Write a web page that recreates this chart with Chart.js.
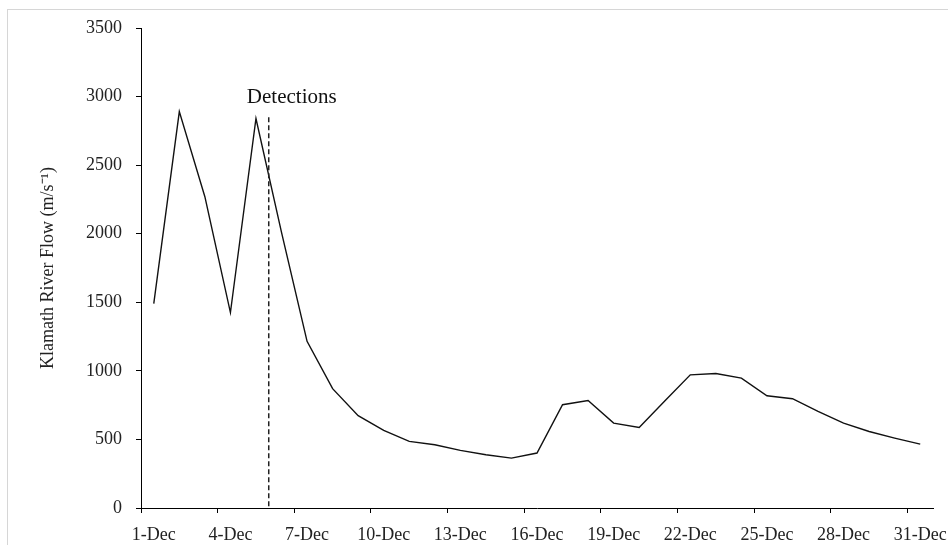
<!DOCTYPE html>
<html>
<head>
<meta charset="utf-8">
<script src="https://cdn.jsdelivr.net/npm/chart.js@4.4.1/dist/chart.umd.min.js"></script>
<style>
  html, body { margin: 0; padding: 0; background: #fff; overflow: hidden; }
  #frame { position: absolute; left: 7px; top: 9px; width: 970px; height: 570px; border: 1px solid #d6d6d6; }
  #wrap { position: absolute; left: 0; top: 0; width: 948px; height: 545px; }
</style>
</head>
<body>
<div id="frame"></div>
<div id="wrap"><canvas id="c"></canvas></div>
<script>
const dayLabels = ['1-Dec','2-Dec','3-Dec','4-Dec','5-Dec','6-Dec','7-Dec','8-Dec','9-Dec','10-Dec',
  '11-Dec','12-Dec','13-Dec','14-Dec','15-Dec','16-Dec','17-Dec','18-Dec','19-Dec','20-Dec',
  '21-Dec','22-Dec','23-Dec','24-Dec','25-Dec','26-Dec','27-Dec','28-Dec','29-Dec','30-Dec','31-Dec'];
const riverFlow = [1490, 2890, 2270, 1425, 2840, 2010, 1215, 870, 673, 566,
  486, 461, 420, 388, 364, 401, 753, 784, 619, 587,
  780, 971, 981, 947, 818, 797, 704, 619, 558, 510, 466];
const yTicks = [0, 500, 1000, 1500, 2000, 2500, 3000, 3500];
const labelEvery = 3;
const detectionText = 'Detections';
const detectionIndex = 4.5;   // between 5-Dec and 6-Dec
const detectionTop = 2850;
const yTitle = 'Klamath River Flow (m/s\u207B\u00B9)';

Chart.defaults.font.family = "'Liberation Serif', 'Times New Roman', serif";
Chart.defaults.color = '#222';

const detectionPlugin = {
  id: 'detection',
  afterDatasetsDraw(chart) {
    const {ctx, scales: {x, y}} = chart;
    const px = x.getPixelForValue(detectionIndex);
    const top = y.getPixelForValue(detectionTop);
    const bottom = y.getPixelForValue(0);
    ctx.save();
    ctx.strokeStyle = '#222';
    ctx.lineWidth = 1.5;
    ctx.setLineDash([5, 3]);
    ctx.beginPath();
    ctx.moveTo(px, top);
    ctx.lineTo(px, bottom);
    ctx.stroke();
    ctx.setLineDash([]);
    ctx.fillStyle = '#111';
    ctx.font = "21px 'Liberation Serif', 'Times New Roman', serif";
    ctx.textAlign = 'center';
    ctx.textBaseline = 'alphabetic';
    ctx.fillText(detectionText, px + 23, top - 14);
    ctx.restore();
  }
};

new Chart(document.getElementById('c'), {
  type: 'line',
  data: {
    labels: dayLabels,
    datasets: [{
      data: riverFlow,
      borderColor: '#111',
      borderWidth: 1.4,
      pointRadius: 0,
      tension: 0,
      fill: false
    }]
  },
  options: {
    responsive: true,
    maintainAspectRatio: false,
    animation: false,
    layout: { padding: { left: 10, top: 28, right: 15, bottom: 0 } },
    plugins: { legend: { display: false }, tooltip: { enabled: false } },
    scales: {
      x: {
        type: 'category',
        offset: true,
        grid: {
          offset: true,
          drawOnChartArea: false,
          drawTicks: true,
          tickLength: 5,
          color: (ctx) => (ctx.index !== undefined && ctx.index % labelEvery === 0) ? '#000' : 'rgba(0,0,0,0)',
          lineWidth: 1
        },
        border: { display: true, color: '#000', width: 1 },
        ticks: {
          autoSkip: false,
          maxRotation: 0,
          minRotation: 0,
          padding: 11,
          color: '#222',
          font: { size: 18 },
          callback: (v, i) => (i % labelEvery === 0 ? dayLabels[i] : '')
        },
        afterFit(scale) { scale.height = 37; scale.paddingLeft = 0; scale.paddingRight = 0; }
      },
      y: {
        min: 0,
        max: 3500,
        afterBuildTicks(scale) { scale.ticks = yTicks.map(v => ({ value: v })); },
        grid: { drawOnChartArea: false, drawTicks: true, tickLength: 5, color: '#000', lineWidth: 1 },
        border: { display: true, color: '#000', width: 1 },
        ticks: { padding: 14, color: '#222', font: { size: 18 }, callback: (v) => String(v) },
        title: {
          display: true,
          text: yTitle,
          color: '#222',
          font: { size: 18 },
          padding: { top: 27, bottom: 0 }
        },
        afterFit(scale) { scale.width = 131; scale.paddingTop = 0; scale.paddingBottom = 0; }
      }
    }
  },
  plugins: [detectionPlugin]
});
</script>
</body>
</html>
